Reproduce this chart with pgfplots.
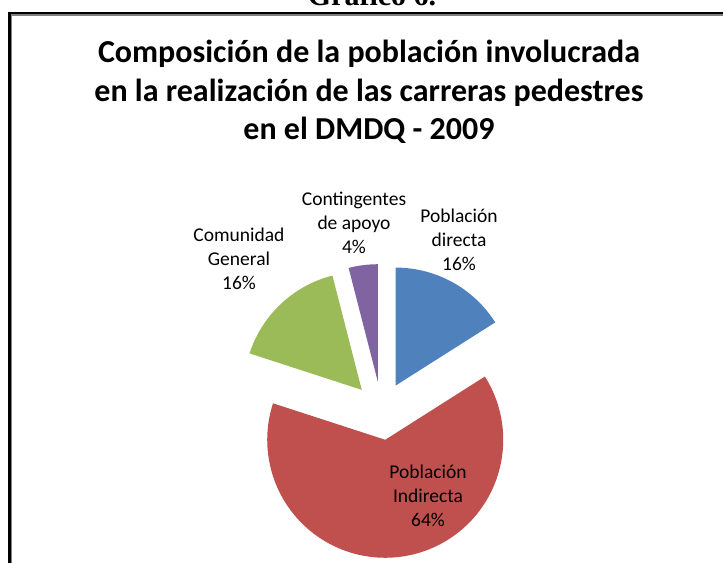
\documentclass[border=0pt]{standalone}
\usepackage{fontspec}
\setmainfont{Carlito}
\newfontfamily\timesfont{Liberation Serif}
\usepackage{pgfplots}
\usepackage{pgfplotstable}
\pgfplotsset{compat=1.18}
\definecolor{cDir}{HTML}{4F81BD}
\definecolor{cInd}{HTML}{C0504D}
\definecolor{cGen}{HTML}{9BBB59}
\definecolor{cCon}{HTML}{8064A2}
\definecolor{frameGray}{HTML}{808080}

% Composition (percent), clockwise from 12 o'clock
\pgfplotstableread{
value
16
64
16
4
}\piedata

\begin{document}%
\begin{tikzpicture}
\pgfplotstablegetelem{0}{value}\of\piedata \let\vA\pgfplotsretval
\pgfplotstablegetelem{1}{value}\of\piedata \let\vB\pgfplotsretval
\pgfplotstablegetelem{2}{value}\of\piedata \let\vC\pgfplotsretval
\pgfplotstablegetelem{3}{value}\of\piedata \let\vD\pgfplotsretval
% angles
\pgfmathsetmacro\aA{90}
\pgfmathsetmacro\aB{\aA-3.6*\vA}
\pgfmathsetmacro\aC{\aB-3.6*\vB}
\pgfmathsetmacro\aD{\aC-3.6*\vC}
\pgfmathsetmacro\aE{\aD-3.6*\vD}
% geometry
\def\Ox{381.6}\def\Oy{152}\def\R{118}\def\Ex{29}
\pgfmathsetmacro\cxA{\Ox+\Ex*cos((\aA+\aB)/2)}\pgfmathsetmacro\cyA{\Oy+\Ex*sin((\aA+\aB)/2)}
\pgfmathsetmacro\cxB{\Ox+\Ex*cos((\aB+\aC)/2)}\pgfmathsetmacro\cyB{\Oy+\Ex*sin((\aB+\aC)/2)}
\pgfmathsetmacro\cxC{\Ox+\Ex*cos((\aC+\aD)/2)}\pgfmathsetmacro\cyC{\Oy+\Ex*sin((\aC+\aD)/2)}
\pgfmathsetmacro\cxD{\Ox+\Ex*cos((\aD+\aE)/2)}\pgfmathsetmacro\cyD{\Oy+\Ex*sin((\aD+\aE)/2)}
\path[use as bounding box] (0,0) rectangle (723pt,563pt);
\clip (0,0) rectangle (723pt,563pt);
\begin{axis}[
  width=723pt, height=563pt, scale only axis,
  xmin=0, xmax=723, ymin=0, ymax=563,
  hide axis, clip=false,
]
% slices
\addplot[draw=none, fill=cDir, domain=\aB:\aA, samples=80]
  ({\cxA+\R*cos(x)},{\cyA+\R*sin(x)}) -- (axis cs:\cxA,\cyA) -- cycle;
\addplot[draw=none, fill=cInd, domain=\aC:\aB, samples=200]
  ({\cxB+\R*cos(x)},{\cyB+\R*sin(x)}) -- (axis cs:\cxB,\cyB) -- cycle;
\addplot[draw=none, fill=cGen, domain=\aD:\aC, samples=80]
  ({\cxC+\R*cos(x)},{\cyC+\R*sin(x)}) -- (axis cs:\cxC,\cyC) -- cycle;
\addplot[draw=none, fill=cCon, domain=\aE:\aD, samples=30]
  ({\cxD+\R*cos(x)},{\cyD+\R*sin(x)}) -- (axis cs:\cxD,\cyD) -- cycle;

% frame
\draw[line width=2.4pt, black] (axis cs:9.3,0) -- (axis cs:9.3,549.9) -- (axis cs:723,549.9);
\draw[line width=1.4pt, frameGray] (axis cs:11.7,0) -- (axis cs:11.7,548.1) -- (axis cs:723,548.1);

% heading above frame (cut by the top edge, as in the source)
\node[overlay, font=\timesfont\bfseries\fontsize{30}{30}\selectfont, anchor=base, inner sep=0pt]
  at (axis cs:372,557.5) {Gráfico 6.};

% title
\node[align=center, font=\bfseries\fontsize{32}{38.5}\selectfont, inner sep=0pt]
  at (axis cs:369,471) {Composición de la población involucrada\\en la realización de las carreras pedestres\\en el DMDQ - 2009};

% labels
\node[align=center, font=\fontsize{19.5}{24}\selectfont, inner sep=0pt]
  at (axis cs:459,323) {Población\\directa\\\vA\%};
\node[align=center, font=\fontsize{19.5}{24}\selectfont, inner sep=0pt]
  at (axis cs:428,67) {Población\\Indirecta\\\vB\%};
\node[align=center, font=\fontsize{19.5}{24}\selectfont, inner sep=0pt]
  at (axis cs:239,304) {Comunidad\\General\\\vC\%};
\node[align=center, font=\fontsize{19.5}{24}\selectfont, inner sep=0pt]
  at (axis cs:354,340) {Contingentes\\de apoyo\\\vD\%};
\end{axis}
\end{tikzpicture}%
\end{document}
